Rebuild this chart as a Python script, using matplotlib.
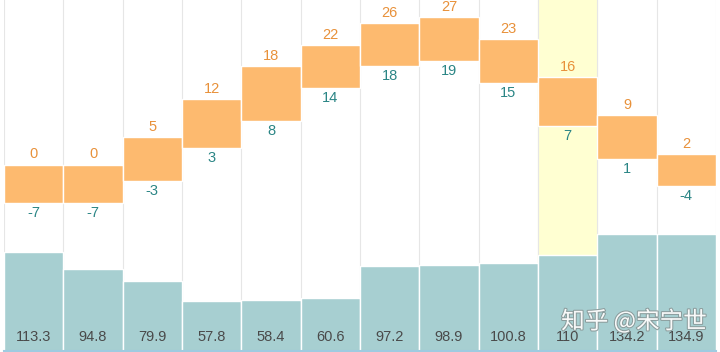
import matplotlib
matplotlib.use("Agg")
import matplotlib.pyplot as plt
import matplotlib.patheffects as pe
import numpy as np

months = list(range(1, 13))
high = [0, 0, 5, 12, 18, 22, 26, 27, 23, 16, 9, 2]
low = [-7, -7, -3, 3, 8, 14, 18, 19, 15, 7, 1, -4]
precip = [113.3, 94.8, 79.9, 57.8, 58.4, 60.6, 97.2, 98.9, 100.8, 110, 134.2, 134.9]
highlight_index = 9

plt.rcParams['font.family'] = ['Liberation Sans', 'DejaVu Sans']

fig = plt.figure(figsize=(7.2, 3.52), dpi=100)
ax = fig.add_axes([4 / 720, 1 / 352, 712 / 720, 351 / 352])
x = np.arange(len(months))

# precipitation axis
ax.set_xlim(-0.5, len(months) - 0.5)
ax.set_ylim(0, 351 / 0.87)
ax.axvspan(highlight_index - 0.5, highlight_index + 0.5, color='#ffffd2', zorder=0)
for b in np.arange(-0.5, len(months), 1.0):
    ax.axvline(b, color='#e6e6e6', lw=0.8, zorder=0.5)
ax.bar(x, precip, width=1.0, color='#a7cfd1', edgecolor='white', linewidth=1.0, zorder=2)
for xi, p in zip(x, precip):
    ax.text(xi, 14 / 0.87, f"{p:g}", ha='center', va='center', fontsize=10.5, color='#4a4a4a', zorder=5)

for s in ['top', 'left', 'right']:
    ax.spines[s].set_visible(False)
ax.spines['bottom'].set_color('#9fcbe0')
ax.spines['bottom'].set_linewidth(1.5)
ax.set_xticks([])
ax.set_yticks([])
ax.patch.set_alpha(0)

# temperature axis
ax2 = ax.twinx()
ax2.set_xlim(-0.5, len(months) - 0.5)
scale = 5.45
zero_y = 164.5
ax2.set_ylim(-(351 - zero_y) / scale, zero_y / scale)
ax2.bar(x, np.array(high) - np.array(low), bottom=low, width=1.0, color='#fdba6f',
        edgecolor='white', linewidth=1.0, zorder=2)
for xi, h, l in zip(x, high, low):
    ax2.text(xi, h + 10 / scale, str(h), ha='center', va='center', fontsize=10.5, color='#e8913a')
    ax2.text(xi, l - 10 / scale, str(l), ha='center', va='center', fontsize=10.5, color='#2a8585')
for s in ax2.spines.values():
    s.set_visible(False)
ax2.set_yticks([])
ax2.set_xticks([])

fig.text(634 / 720, 1 - 321 / 352, "知乎 @宋宁世", ha='center', va='center', fontsize=17,
         color='white', alpha=0.95, family=['Noto Sans CJK SC', 'DejaVu Sans'],
         path_effects=[pe.withStroke(linewidth=1.5, foreground='#8a9a9a')])

fig.savefig('out.png', dpi=100)
